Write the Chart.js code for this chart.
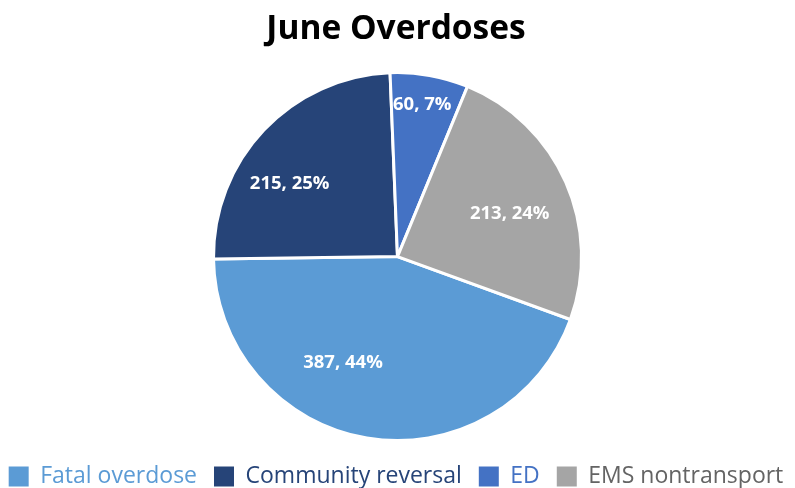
<!DOCTYPE html>
<html>
<head>
<meta charset="utf-8">
<script src="https://cdn.jsdelivr.net/npm/chart.js@4/dist/chart.umd.min.js"></script>
<style>
  html, body { margin: 0; padding: 0; background: #ffffff; }
  #wrap { width: 795px; height: 488px; position: relative; }
</style>
</head>
<body>
<div id="wrap"><canvas id="c" width="795" height="488"></canvas></div>
<script>
const categories = ["Fatal overdose", "Community reversal", "ED", "EMS nontransport"];
const counts = [387, 215, 60, 213];
const percentLabels = ["44%", "25%", "7%", "24%"];
const sliceColors = ["#5B9BD5", "#264478", "#4472C4", "#A5A5A5"];
const legendTextColors = ["#5B9BD5", "#264478", "#4472C4", "#646464"];

// label placement style: [angle offset from slice mid (deg), radius fraction]
const labelPlacement = [[17.6, 0.648], [-9.3, 0.708], [-0.75, 0.836], [3.1, 0.652]];

const rotationDeg = 110;

const labelPlugin = {
  id: 'sliceLabels',
  afterDatasetsDraw(chart) {
    const ctx = chart.ctx;
    const meta = chart.getDatasetMeta(0);
    ctx.save();
    ctx.font = 'bold 18.5px "Open Sans"';
    ctx.fillStyle = '#ffffff';
    ctx.textAlign = 'center';
    ctx.textBaseline = 'middle';
    meta.data.forEach((arc, i) => {
      const p = arc.getProps(['x', 'y', 'startAngle', 'endAngle', 'outerRadius'], true);
      const mid = (p.startAngle + p.endAngle) / 2 + labelPlacement[i][0] * Math.PI / 180;
      const r = p.outerRadius * labelPlacement[i][1];
      const x = p.x + Math.cos(mid) * r;
      const y = p.y + Math.sin(mid) * r;
      ctx.fillText(counts[i] + ', ' + percentLabels[i], x, y);
    });
    ctx.restore();
  }
};

new Chart(document.getElementById('c'), {
  type: 'pie',
  data: {
    labels: categories,
    datasets: [{
      data: counts,
      backgroundColor: sliceColors,
      borderColor: '#ffffff',
      borderWidth: 3
    }]
  },
  options: {
    responsive: false,
    animation: false,
    rotation: rotationDeg,
    radius: 184,
    layout: { padding: { top: 0, bottom: -10, left: -12, right: -9 } },
    plugins: {
      title: {
        display: true,
        text: 'June Overdoses',
        color: '#000000',
        font: { family: '"Open Sans"', size: 33.5, weight: 'bold' },
        padding: { top: 9, bottom: 16 }
      },
      legend: {
        display: true,
        position: 'bottom',
        labels: {
          font: { family: '"Open Sans"', size: 23 },
          boxWidth: 20,
          boxHeight: 20,
          padding: 17,
          generateLabels(chart) {
            return categories.map((c, i) => ({
              text: c,
              fillStyle: sliceColors[i],
              strokeStyle: sliceColors[i],
              lineWidth: 0,
              fontColor: legendTextColors[i],
              hidden: false,
              index: i
            }));
          }
        }
      },
      tooltip: { enabled: false }
    }
  },
  plugins: [labelPlugin]
});
</script>
</body>
</html>
